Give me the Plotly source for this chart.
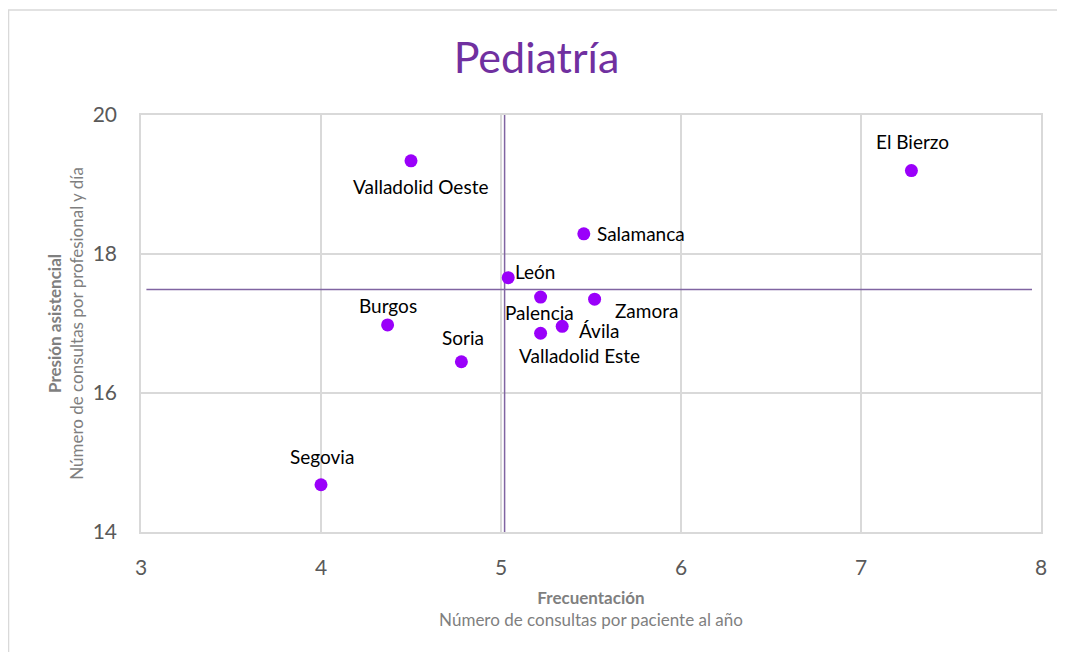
import plotly.graph_objects as go

# ---- data ----
areas = ["El Bierzo", "Valladolid Oeste", "Salamanca", "León", "Palencia", "Zamora",
         "Burgos", "Ávila", "Valladolid Este", "Soria", "Segovia"]
frecuentacion = [7.28, 4.50, 5.46, 5.04, 5.22, 5.52, 4.37, 5.34, 5.22, 4.78, 4.00]
presion = [19.20, 19.34, 18.29, 17.66, 17.38, 17.35, 16.98, 16.96, 16.86, 16.45, 14.68]

ref_frecuentacion = 5.02
ref_presion = 17.49
vline_y = [14.0, 20.08]
hline_x = [3.03, 7.95]

x_ticks = [3, 4, 5, 6, 7, 8]
y_ticks = [14, 16, 18, 20]

# label placement (pixel offsets, styling only)
label_pos = {
    "El Bierzo": ("center", 1, 29),
    "Valladolid Oeste": ("center", 9, -26),
    "Salamanca": ("left", 12, 0),
    "León": ("left", 6, 6),
    "Palencia": ("center", -1, -15),
    "Zamora": ("left", 19, -11),
    "Burgos": ("center", 0, 19),
    "Ávila": ("left", 16, -4),
    "Valladolid Este": ("center", 39, -22),
    "Soria": ("center", 2, 24),
    "Segovia": ("center", 1, 28),
}

FONT = "Lato"
GRID = "#D9D9D9"
GRAY = "#595959"
LINE = "#8064A2"

fig = go.Figure()

fig.add_trace(go.Scatter(
    x=[ref_frecuentacion, ref_frecuentacion], y=vline_y, mode="lines",
    line=dict(color=LINE, width=1.5), hoverinfo="skip", showlegend=False, cliponaxis=False))
fig.add_trace(go.Scatter(
    x=hline_x, y=[ref_presion, ref_presion], mode="lines",
    line=dict(color=LINE, width=1.5), hoverinfo="skip", showlegend=False, cliponaxis=False))

fig.add_trace(go.Scatter(
    x=frecuentacion, y=presion, mode="markers", text=areas,
    marker=dict(color="#9A00FA", size=13), showlegend=False, cliponaxis=False))

for name, xv, yv in zip(areas, frecuentacion, presion):
    anchor, dx, dy = label_pos[name]
    fig.add_annotation(x=xv, y=yv, text=name, showarrow=False,
                       xanchor=anchor, yanchor="middle", xshift=dx, yshift=dy,
                       borderpad=0,
                       font=dict(family=FONT, size=19, color="#000000"))

# outer chart border
fig.add_shape(type="rect", xref="paper", yref="paper",
              x0=-0.1472, x1=1.2, y0=-0.5, y1=1.2518,
              line=dict(color="#D9D9D9", width=1.5), fillcolor="rgba(0,0,0,0)", layer="below")

fig.update_layout(
    width=1057, height=644,
    margin=dict(l=133, r=24, t=107, b=120),
    paper_bgcolor="white", plot_bgcolor="white",
    font=dict(family=FONT, color=GRAY),
    title=dict(text="Pediatría", x=0.5, xanchor="center", xref="container",
               y=1 - 50 / 644, yanchor="middle", yref="container",
               font=dict(family=FONT, size=43, color="#7030A0")),
    xaxis=dict(range=[3, 8], tickvals=x_ticks, showgrid=True, gridcolor=GRID, gridwidth=1.5,
               zeroline=False, showline=True, mirror=True, linecolor=GRID, linewidth=1.5,
               ticks="outside", ticklen=16, tickcolor="rgba(0,0,0,0)",
               tickfont=dict(family=FONT, size=21, color=GRAY),
               title=dict(text="<b>Frecuentación</b><br>Número de consultas por paciente al año",
                          font=dict(family=FONT, size=17, color="#7F7F7F"), standoff=14)),
    yaxis=dict(range=[14, 20], tickvals=y_ticks, showgrid=True, gridcolor=GRID, gridwidth=1.5,
               zeroline=False, showline=True, mirror=True, linecolor=GRID, linewidth=1.5,
               ticks="outside", ticklen=18, tickcolor="rgba(0,0,0,0)",
               tickfont=dict(family=FONT, size=21, color=GRAY),
               title=dict(text="<b>Presión asistencial</b><br>Número de consultas por profesional y día",
                          font=dict(family=FONT, size=17, color="#7F7F7F"), standoff=5)),
)

fig.write_html("out.html")
